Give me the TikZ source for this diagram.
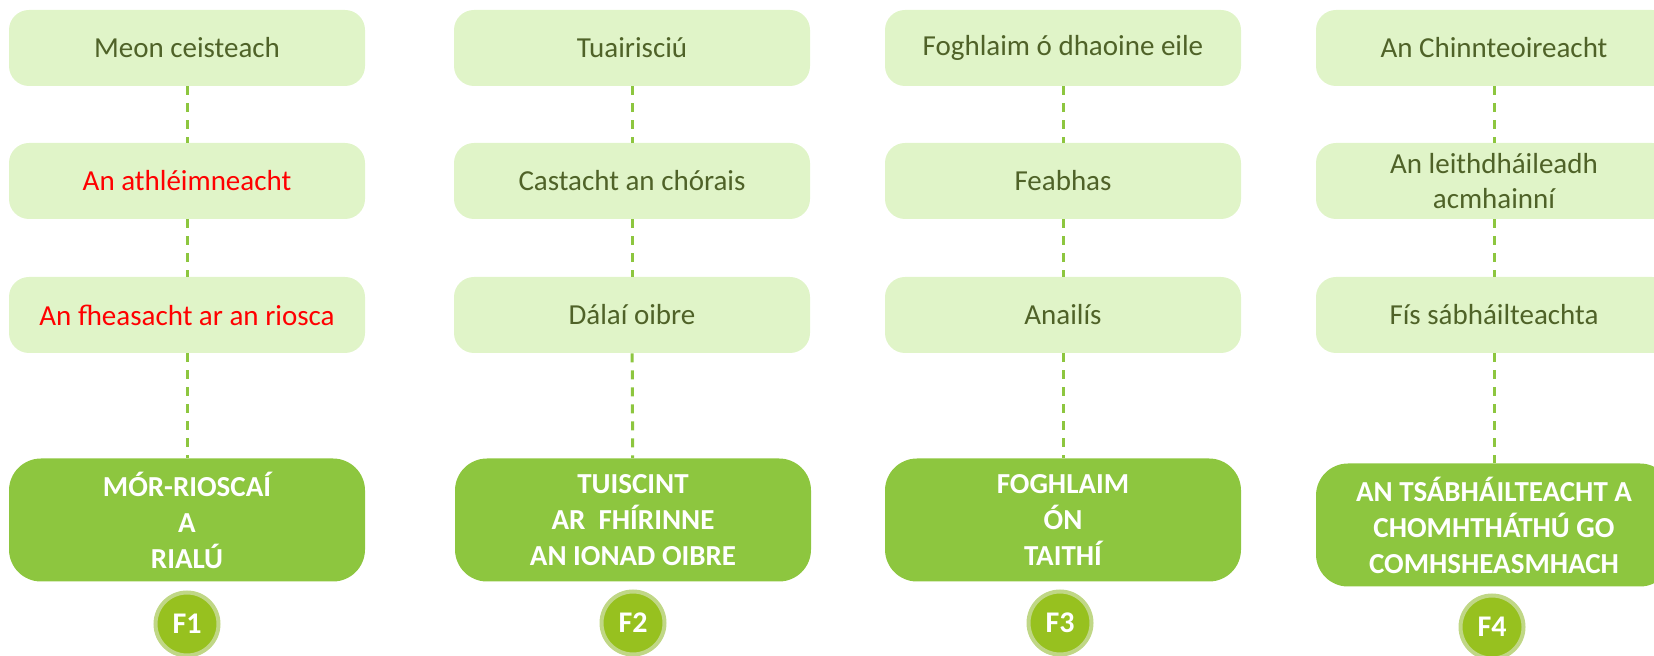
\documentclass[tikz,border=0pt]{standalone}
\usepackage{fontspec}
\setmainfont{Carlito}
\usepackage{tikz}

\definecolor{olivetext}{RGB}{79,98,40}
\definecolor{palefill}{RGB}{224,244,200}
\definecolor{leaffill}{RGB}{141,198,63}
\definecolor{badgefill}{RGB}{151,193,31}
\definecolor{badgering}{RGB}{192,215,134}

\tikzset{
	topic/.style={rectangle, rounded corners=10pt, fill=palefill, text=olivetext,
		minimum width=178pt, minimum height=38pt, inner sep=1pt, align=center,
		font=\fontsize{14.5}{17.5}\selectfont},
	pillar/.style={rectangle, rounded corners=16pt, fill=leaffill, text=white,
		minimum width=178pt, minimum height=61.5pt, inner sep=1pt, align=center,
		font=\fontsize{14.5}{18}\selectfont\bfseries},
	badge/.style={circle, fill=badgefill, draw=badgering, line width=2pt,
		minimum size=31.5pt, inner sep=0pt, text=white,
		font=\fontsize{15}{17}\selectfont\bfseries},
	link/.style={draw=leaffill, line width=1.5pt, dash pattern=on 4.5pt off 4pt}
}

\begin{document}
\begin{tikzpicture}[x=0.5pt, y=-0.5pt]
			\useasboundingbox (0,0) rectangle (1654,656);
			% column 1
			\node[topic] (t1a) at (187,48) {Meon ceisteach};
			\node[topic, text=red] (t1b) at (187,181) {An athléimneacht};
			\node[topic, text=red] (t1c) at (187,315) {An fheasacht ar an riosca};
			\node[pillar] (p1) at (187,520) {MÓR-RIOSCAÍ\\A\\RIALÚ};
			\node[badge] (f1) at (187,624) {F1};
			% column 2
			\node[topic] (t2a) at (632,48) {Tuairisciú};
			\node[topic] (t2b) at (632,181) {Castacht an chórais};
			\node[topic] (t2c) at (632,315) {Dálaí oibre};
			\node[pillar] (p2) at (633,520) {TUISCINT\\AR\ \ FHÍRINNE\\AN IONAD OIBRE};
			\node[badge] (f2) at (633,623) {F2};
			% column 3
			\node[topic] (t3a) at (1063,48) {Foghlaim ó dhaoine eile};
			\node[topic] (t3b) at (1063,181) {Feabhas};
			\node[topic] (t3c) at (1063,315) {Anailís};
			\node[pillar] (p3) at (1063,520) {FOGHLAIM\\ÓN\\TAITHÍ};
			\node[badge] (f3) at (1060,623) {F3};
			% column 4
			\node[topic] (t4a) at (1494,48) {An Chinnteoireacht};
			\node[topic] (t4b) at (1494,181) {An leithdháileadh\\acmhainní};
			\node[topic] (t4c) at (1494,315) {Fís sábháilteachta};
			\node[pillar] (p4) at (1494,525) {AN TSÁBHÁILTEACHT A\\CHOMHTHÁTHÚ GO\\COMHSHEASMHACH};
			\node[badge] (f4) at (1492,627) {F4};
			\foreach \c in {1, ..., 4}
			{
				\draw[link] (t\c a) -- (t\c b);
				\draw[link] (t\c b) -- (t\c c);
				\draw[link] (t\c c) -- (p\c);
			}
		\end{tikzpicture}
\end{document}
